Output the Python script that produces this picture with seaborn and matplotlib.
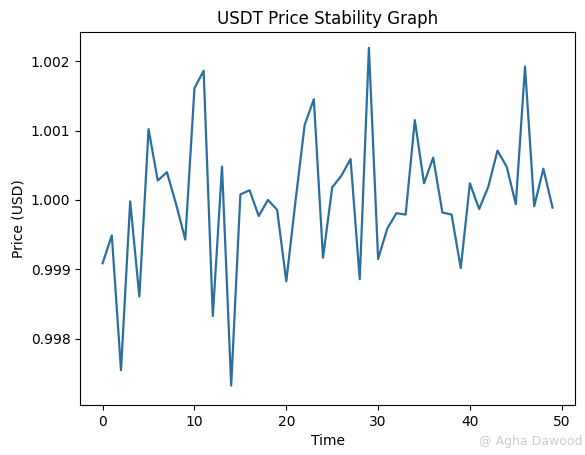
import matplotlib
matplotlib.use('Agg')
import matplotlib.pyplot as plt
import seaborn as sns
import pandas as pd

time = list(range(50))
price = [0.99909, 0.99949, 0.99755, 0.99998, 0.99861, 1.00102, 1.00028, 1.00040, 0.99994, 0.99943,
         1.00161, 1.00186, 0.99833, 1.00048, 0.99733, 1.00008, 1.00014, 0.99977, 1.00000, 0.99986,
         0.99883, 0.99998, 1.00108, 1.00145, 0.99917, 1.00018, 1.00035, 1.00059, 0.99886, 1.00219,
         0.99915, 0.99959, 0.99981, 0.99979, 1.00115, 1.00024, 1.00061, 0.99982, 0.99979, 0.99902,
         1.00024, 0.99987, 1.00019, 1.00071, 1.00048, 0.99994, 1.00192, 0.99991, 1.00045, 0.99989]

df = pd.DataFrame({'Time': time, 'Price (USD)': price})

fig = plt.figure(figsize=(5.85, 4.55), dpi=100)
ax = fig.add_axes([0.137, 0.110, 0.846, 0.820])
sns.lineplot(data=df, x='Time', y='Price (USD)', ax=ax, color='#2b6f9e', linewidth=1.6)
ax.set_title('USDT Price Stability Graph', fontsize=12)
ax.set_ylim(0.99705, 1.00242)
ax.set_yticks([0.998, 0.999, 1.000, 1.001, 1.002])
ax.set_yticklabels(['0.998', '0.999', '1.000', '1.001', '1.002'])

# faint watermark in the corner
fig.text(0.995, 0.015, '@ Agha Dawood', color='#cccccc', fontsize=9, ha='right', va='bottom')

plt.savefig('out.png', dpi=100)
